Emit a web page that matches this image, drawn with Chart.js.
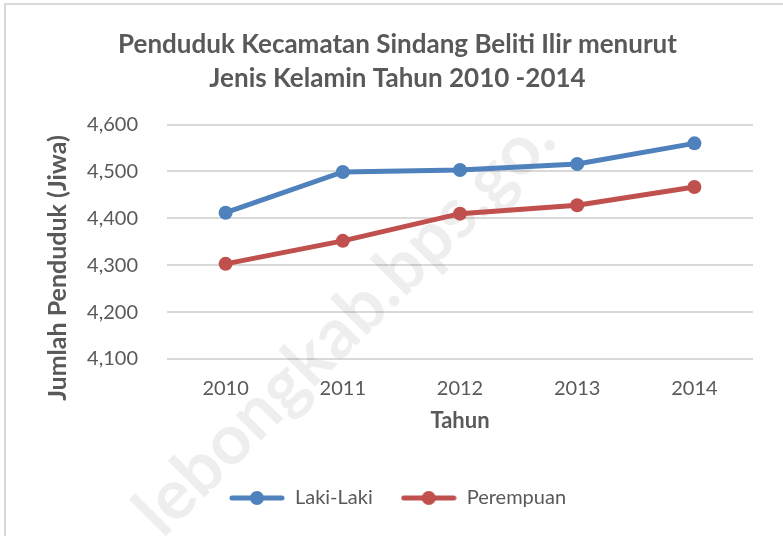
<!DOCTYPE html>
<html>
<head>
<meta charset="utf-8">
<script src="https://cdn.jsdelivr.net/npm/chart.js@4.4.1/dist/chart.umd.min.js"></script>
<style>
	html, body { margin: 0; padding: 0; background: #fff; }
	#wrap { position: relative; width: 783px; height: 536px; }
</style>
</head>
<body>
<div id="wrap"><canvas id="chart" width="783" height="536"></canvas></div>
<script>

const years = ['2010', '2011', '2012', '2013', '2014'];
const lakiLaki = [4412, 4499, 4503, 4516, 4560];
const perempuan = [4303, 4352, 4410, 4428, 4467];
const yTicks = [4100, 4200, 4300, 4400, 4500, 4600];

const titleLines = ['Penduduk Kecamatan Sindang Beliti Ilir menurut', 'Jenis Kelamin Tahun 2010 -2014'];
const xTitle = 'Tahun';
const yTitle = 'Jumlah Penduduk (Jiwa)';
const watermark = 'lebongkab.bps.go.';

const textColor = '#595959';
const gridColor = '#d9d9d9';
const blue = '#4f81bd';
const red = '#c0504d';
const font = 'Lato, "Open Sans", sans-serif';


// legend symbol: short line with a marker in the middle
function legendSymbol(color) {
	const c = document.createElement('canvas');
	c.width = 56;
	c.height = 16;
	const g = c.getContext('2d');
	g.strokeStyle = color;
	g.lineWidth = 5;
	g.lineCap = 'round';
	g.beginPath();
	g.moveTo(3, 8);
	g.lineTo(53, 8);
	g.stroke();
	g.fillStyle = color;
	g.beginPath();
	g.arc(28, 8, 7, 0, Math.PI * 2);
	g.fill();
	return c;
}

const decor = {
	id: 'decor',
	beforeDraw(chart) {
		const ctx = chart.ctx;
		ctx.save();
		ctx.fillStyle = '#ffffff';
		ctx.fillRect(0, 0, chart.width, chart.height);
		ctx.strokeStyle = gridColor;
		ctx.lineWidth = 2;
		ctx.beginPath();
		ctx.moveTo(5, chart.height);
		ctx.lineTo(5, 4);
		ctx.lineTo(chart.width, 4);
		ctx.stroke();
		ctx.restore();
	},
	beforeDatasetsDraw(chart) {
		const ctx = chart.ctx;
		ctx.save();
		ctx.translate(345, 325);
		ctx.rotate(-Math.PI / 4);
		ctx.font = 'bold 70px ' + font;
		ctx.fillStyle = 'rgba(0,0,0,0.065)';
		ctx.textAlign = 'center';
		ctx.textBaseline = 'middle';
		ctx.fillText(watermark, 0, 0);
		ctx.restore();
	},
	afterDraw(chart) {
		// y axis title, centred like the reference (lower than the plot centre)
		const ctx = chart.ctx;
		ctx.save();
		ctx.translate(58, 268);
		ctx.rotate(-Math.PI / 2);
		ctx.font = 'bold 25px ' + font;
		ctx.fillStyle = textColor;
		ctx.textAlign = 'center';
		ctx.textBaseline = 'middle';
		ctx.fillText(yTitle, 0, 0);
		ctx.restore();
	}
};

const config = {
	type: 'line',
	data: {
		labels: years,
		datasets: [{
			label: 'Laki-Laki',
			data: lakiLaki,
			borderColor: blue,
			backgroundColor: blue,
			borderWidth: 5,
			pointRadius: 7,
			pointHoverRadius: 7,
			pointBorderWidth: 0,
			tension: 0
		}, {
			label: 'Perempuan',
			data: perempuan,
			borderColor: red,
			backgroundColor: red,
			borderWidth: 5,
			pointRadius: 7,
			pointHoverRadius: 7,
			pointBorderWidth: 0,
			tension: 0
		}]
	},
	options: {
		responsive: false,
		animation: false,
		layout: {
			padding: {left: 42, right: 30, top: 0, bottom: 18}
		},
		plugins: {
			title: {
				display: true,
				text: titleLines,
				color: textColor,
				font: {family: font, size: 26, weight: 'bold', lineHeight: 1.3},
				padding: {top: 28, bottom: 29}
			},
			legend: {
				position: 'bottom',
				labels: {
					color: textColor,
					font: {family: font, size: 20},
					usePointStyle: true,
					pointStyleWidth: 56,
					padding: 28,
					generateLabels(chart) {
						return chart.data.datasets.map(function(ds, i) {
							return {
								text: ds.label,
								fontColor: textColor,
								pointStyle: legendSymbol(ds.borderColor),
								datasetIndex: i,
								lineWidth: 0,
								hidden: false
							};
						});
					}
				}
			},
			tooltip: {enabled: false}
		},
		scales: {
			x: {
				offset: true,
				grid: {display: false, drawTicks: false},
				border: {display: false},
				afterFit(scale) {
					scale.height = 101;
				},
				ticks: {
					color: textColor,
					font: {family: font, size: 20},
					padding: 18
				},
				title: {
					display: true,
					text: xTitle,
					color: textColor,
					font: {family: font, size: 22, weight: 'bold'},
					padding: {top: 0, bottom: 26}
				}
			},
			y: {
				min: yTicks[0],
				max: yTicks[yTicks.length - 1],
				afterBuildTicks(scale) {
					scale.ticks = yTicks.map(v => ({value: v}));
				},
				afterFit(scale) {
					scale.width = 125;
				},
				grid: {color: gridColor, lineWidth: 2, drawTicks: false},
				border: {display: false},
				ticks: {
					color: textColor,
					font: {family: font, size: 20},
					padding: 29,
					callback: v => v.toLocaleString('en-US')
				}
			}
		}
	},
	plugins: [decor]
};

new Chart(document.getElementById('chart'), config);
</script>
</body>
</html>
